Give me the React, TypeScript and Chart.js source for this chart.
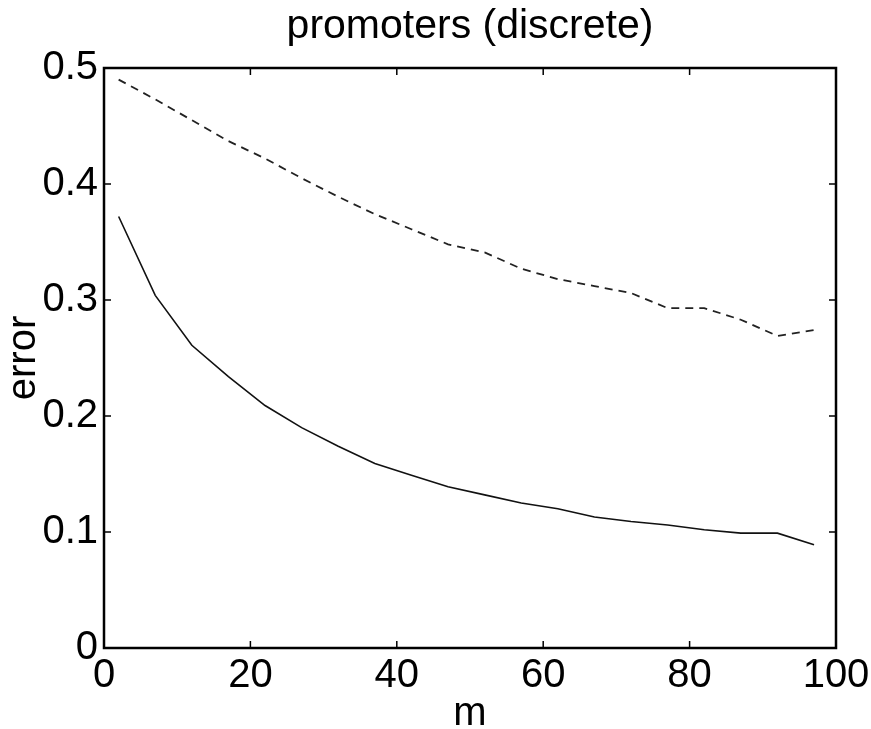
import React, { useEffect, useRef } from "react";
import { Chart, registerables } from "chart.js";

Chart.register(...registerables);

const titleText = "promoters (discrete)";
const xLabel = "m";
const yLabel = "error";
const mValues = [2, 7, 12, 17, 22, 27, 32, 37, 42, 47, 52, 57, 62, 67, 72, 77, 82, 87, 92, 97];
const solidErrors = [0.372, 0.304, 0.261, 0.234, 0.209, 0.190, 0.174, 0.159, 0.149, 0.139, 0.132, 0.125, 0.120, 0.113, 0.109, 0.106, 0.102, 0.099, 0.099, 0.089];
const dashedErrors = [0.490, 0.473, 0.455, 0.437, 0.422, 0.405, 0.389, 0.374, 0.361, 0.348, 0.341, 0.327, 0.318, 0.312, 0.306, 0.293, 0.293, 0.283, 0.269, 0.274];
const xTicks = [0, 20, 40, 60, 80, 100];
const yTicks = [0, 0.1, 0.2, 0.3, 0.4, 0.5];

const FONT = "'Liberation Sans', Arial, Helvetica, sans-serif";

const boxPlugin = {
  id: "matlabBox",
  afterDatasetsDraw(chart: any) {
    const { ctx, chartArea, scales } = chart;
    const { left, right, top, bottom } = chartArea;
    const tl = 7;
    ctx.save();
    ctx.strokeStyle = "#000";
    ctx.lineWidth = 1.5;
    xTicks.forEach((v) => {
      const x = scales.x.getPixelForValue(v);
      ctx.beginPath();
      ctx.moveTo(x, bottom);
      ctx.lineTo(x, bottom - tl);
      ctx.moveTo(x, top);
      ctx.lineTo(x, top + tl);
      ctx.stroke();
    });
    yTicks.forEach((v) => {
      const y = scales.y.getPixelForValue(v);
      ctx.beginPath();
      ctx.moveTo(left, y);
      ctx.lineTo(left + tl, y);
      ctx.moveTo(right, y);
      ctx.lineTo(right - tl, y);
      ctx.stroke();
    });
    ctx.lineWidth = 2.5;
    ctx.strokeRect(left, top, right - left, bottom - top);
    // title centred over the plot area
    ctx.fillStyle = "#000";
    ctx.font = `41px ${FONT}`;
    ctx.textAlign = "center";
    ctx.textBaseline = "alphabetic";
    ctx.fillText(titleText, (left + right) / 2, 38);
    ctx.restore();
  },
};

export default function App() {
  const ref = useRef<HTMLCanvasElement | null>(null);
  useEffect(() => {
    if (!ref.current) return;
    const chart = new Chart(ref.current, {
      type: "line",
      data: {
        datasets: [
          {
            label: "solid",
            data: mValues.map((m, i) => ({ x: m, y: solidErrors[i] })),
            borderColor: "#111",
            borderWidth: 1.6,
            pointRadius: 0,
            tension: 0,
          },
          {
            label: "dashed",
            data: mValues.map((m, i) => ({ x: m, y: dashedErrors[i] })),
            borderColor: "#222",
            borderWidth: 1.8,
            borderDash: [8, 6],
            pointRadius: 0,
            tension: 0,
          },
        ],
      },
      options: {
        animation: false,
        responsive: false,
        layout: { padding: { left: 0, right: 35, top: 68, bottom: 0 } },
        plugins: {
          legend: { display: false },
          tooltip: { enabled: false },
          title: { display: false },
        },
        scales: {
          x: {
            type: "linear",
            min: 0,
            max: 100,
            afterBuildTicks: (s: any) => {
              s.ticks = xTicks.map((v) => ({ value: v }));
            },
            afterFit: (s: any) => {
              s.height = 81;
              s.paddingLeft = 0;
              s.paddingRight = 0;
            },
            grid: { display: false, drawTicks: false },
            border: { display: false },
            ticks: {
              color: "#000",
              padding: 4,
              maxRotation: 0,
              font: { family: FONT, size: 40 },
              callback: (v: any) => String(v),
            },
            title: {
              display: true,
              text: xLabel,
              color: "#000",
              font: { family: FONT, size: 40 },
              padding: { top: 0, bottom: -9 },
            },
          },
          y: {
            type: "linear",
            min: 0,
            max: 0.5,
            afterBuildTicks: (s: any) => {
              s.ticks = yTicks.map((v) => ({ value: v }));
            },
            afterFit: (s: any) => {
              s.width = 104;
              s.paddingTop = 0;
              s.paddingBottom = 0;
            },
            grid: { display: false, drawTicks: false },
            border: { display: false },
            ticks: {
              color: "#000",
              padding: 6,
              font: { family: FONT, size: 40 },
              callback: (v: any) => String(Math.round(Number(v) * 10) / 10),
            },
            title: {
              display: true,
              text: yLabel,
              color: "#000",
              font: { family: FONT, size: 40 },
              padding: { top: 0, bottom: 0 },
            },
          },
        },
      },
      plugins: [boxPlugin],
    });
    return () => chart.destroy();
  }, []);
  return (
    <div style={{ position: "fixed", left: 0, top: 0, width: 871, height: 729, background: "#fff" }}>
      <canvas ref={ref} width={871} height={729} style={{ width: 871, height: 729 }} />
    </div>
  );
}
